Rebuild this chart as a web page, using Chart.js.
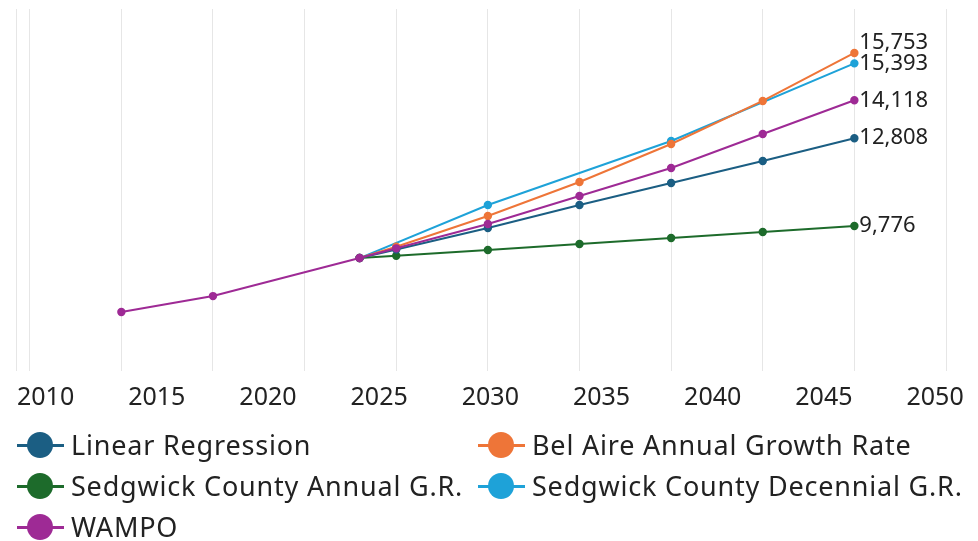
<!DOCTYPE html>
<html>
<head>
<meta charset="utf-8">
<script src="https://cdn.jsdelivr.net/npm/chart.js@4/dist/chart.umd.min.js"></script>
<style>
  body { margin: 0; background: #fff; font-family: "Noto Sans", sans-serif; }
  #wrap { position: relative; width: 978px; height: 541px; }
  #chart { position: absolute; left: 0; top: 0; }
  #legend {
    position: absolute; left: 17px; top: 425px;
    display: grid; grid-template-columns: 461px auto; row-gap: 1px;
    color: #222; font-size: 27px; letter-spacing: 0.8px;
  }
  .item { height: 40px; line-height: 40px; white-space: nowrap; display: flex; align-items: center; }
  .sym { position: relative; width: 47px; height: 40px; margin-right: 7px; flex: none; }
  .sym .ln { position: absolute; left: 0; top: 19px; width: 47px; height: 3px; }
  .sym .dot { position: absolute; left: 10px; top: 7px; width: 26px; height: 26px; border-radius: 50%; }
</style>
</head>
<body>
<div id="wrap">
  <canvas id="chart" width="978" height="427"></canvas>
  <div id="legend"></div>
</div>
<script>
// years on the x axis, nulls where a series has no value
const years = [2010, 2015, 2023, 2025, 2030, 2035, 2040, 2045, 2050];
const linearRegression   = [null, null, 8670, 8966, 9707, 10501, 11262, 12022, 12808];
const belAireAnnual      = [null, null, 8670, 9063, 10121, 11296, 12609, 14095, 15753];
const sedgwickAnnual     = [null, null, 8670, 8750, 8947, 9154, 9361, 9569, 9776];
const sedgwickDecennial  = [null, null, 8670, null, 10501, null, 12713, null, 15393];
const wampo              = [6805, 7357, 8670, 9006, 9845, 10812, 11780, 12954, 14118];

const seriesNames = ['Linear Regression', 'Bel Aire Annual Growth Rate', 'Sedgwick County Annual G.R.',
  'Sedgwick County Decennial G.R.', 'WAMPO'];
const seriesValues = [linearRegression, belAireAnnual, sedgwickAnnual, sedgwickDecennial, wampo];
const seriesColors = ['#1b5e83', '#ee7538', '#1d6b2b', '#1ea2d8', '#9e2a95'];

// tick labels along the bottom
const tickYears = [2010, 2015, 2020, 2025, 2030, 2035, 2040, 2045, 2050];
// vertical grid lines
const gridYears = [2005, 2010, 2015, 2020, 2025, 2030, 2035, 2040, 2045, 2050, 2055];

const toPoints = vals => years.map((y, i) => ({ x: y, y: vals[i] })).filter(p => p.y !== null);

const datasets = seriesNames.map((name, i) => ({
  label: name,
  data: toPoints(seriesValues[i]),
  borderColor: seriesColors[i],
  backgroundColor: seriesColors[i],
  borderWidth: 2,
  pointRadius: 3.2,
  pointHoverRadius: 3.2,
  tension: 0,
  order: name === 'WAMPO' ? 0 : i + 1,
  labelShift: name === 'Bel Aire Annual Growth Rate' ? -10 : 0
}));

// end-of-line value labels
const endLabels = {
  id: 'endLabels',
  afterDatasetsDraw(chart) {
    const ctx = chart.ctx;
    ctx.save();
    ctx.font = '22px "Noto Sans"';
    ctx.fillStyle = '#222';
    ctx.textAlign = 'left';
    ctx.textBaseline = 'middle';
    chart.data.datasets.forEach((ds, i) => {
      const meta = chart.getDatasetMeta(i);
      const pt = meta.data[meta.data.length - 1];
      const v = ds.data[ds.data.length - 1].y;
      ctx.fillText(v.toLocaleString('en-US'), pt.x + 5, pt.y + ds.labelShift);
    });
    ctx.restore();
  }
};

const chart = new Chart(document.getElementById('chart'), {
  type: 'line',
  data: { datasets },
  options: {
    responsive: false,
    animation: false,
    layout: { padding: { left: 16, right: 32, top: 9, bottom: 2 } },
    plugins: { legend: { display: false }, tooltip: { enabled: false } },
    scales: {
      x: {
        type: 'linear',
        position: 'bottom',
        min: 2004.25,
        max: 2055,
        afterBuildTicks: axis => { axis.ticks = [2004.25, ...gridYears].map(v => ({ value: v })); },
        grid: { color: '#e6e6e6', lineWidth: 1, drawTicks: false },
        border: { display: false },
        ticks: { display: false }
      },
      x2: {
        type: 'linear',
        position: 'bottom',
        min: 2008.67,
        max: 2050.49,
        afterBuildTicks: axis => { axis.ticks = tickYears.map(v => ({ value: v })); },
        grid: { display: false, drawTicks: false },
        border: { display: false },
        ticks: {
          padding: 12,
          color: '#222',
          font: { family: 'Noto Sans', size: 25 },
          maxRotation: 0,
          autoSkip: false,
          callback: v => String(v)
        }
      },
      y: {
        display: false,
        min: 4770,
        max: 17270
      }
    }
  },
  plugins: [endLabels]
});

// legend: line with a dot, in two columns
const legend = document.getElementById('legend');
seriesNames.forEach((name, i) => {
  const item = document.createElement('div');
  item.className = 'item';
  item.innerHTML = '<span class="sym"><span class="ln" style="background:' + seriesColors[i] +
    '"></span><span class="dot" style="background:' + seriesColors[i] + '"></span></span>';
  item.appendChild(document.createTextNode(name));
  legend.appendChild(item);
});
</script>
</body>
</html>
